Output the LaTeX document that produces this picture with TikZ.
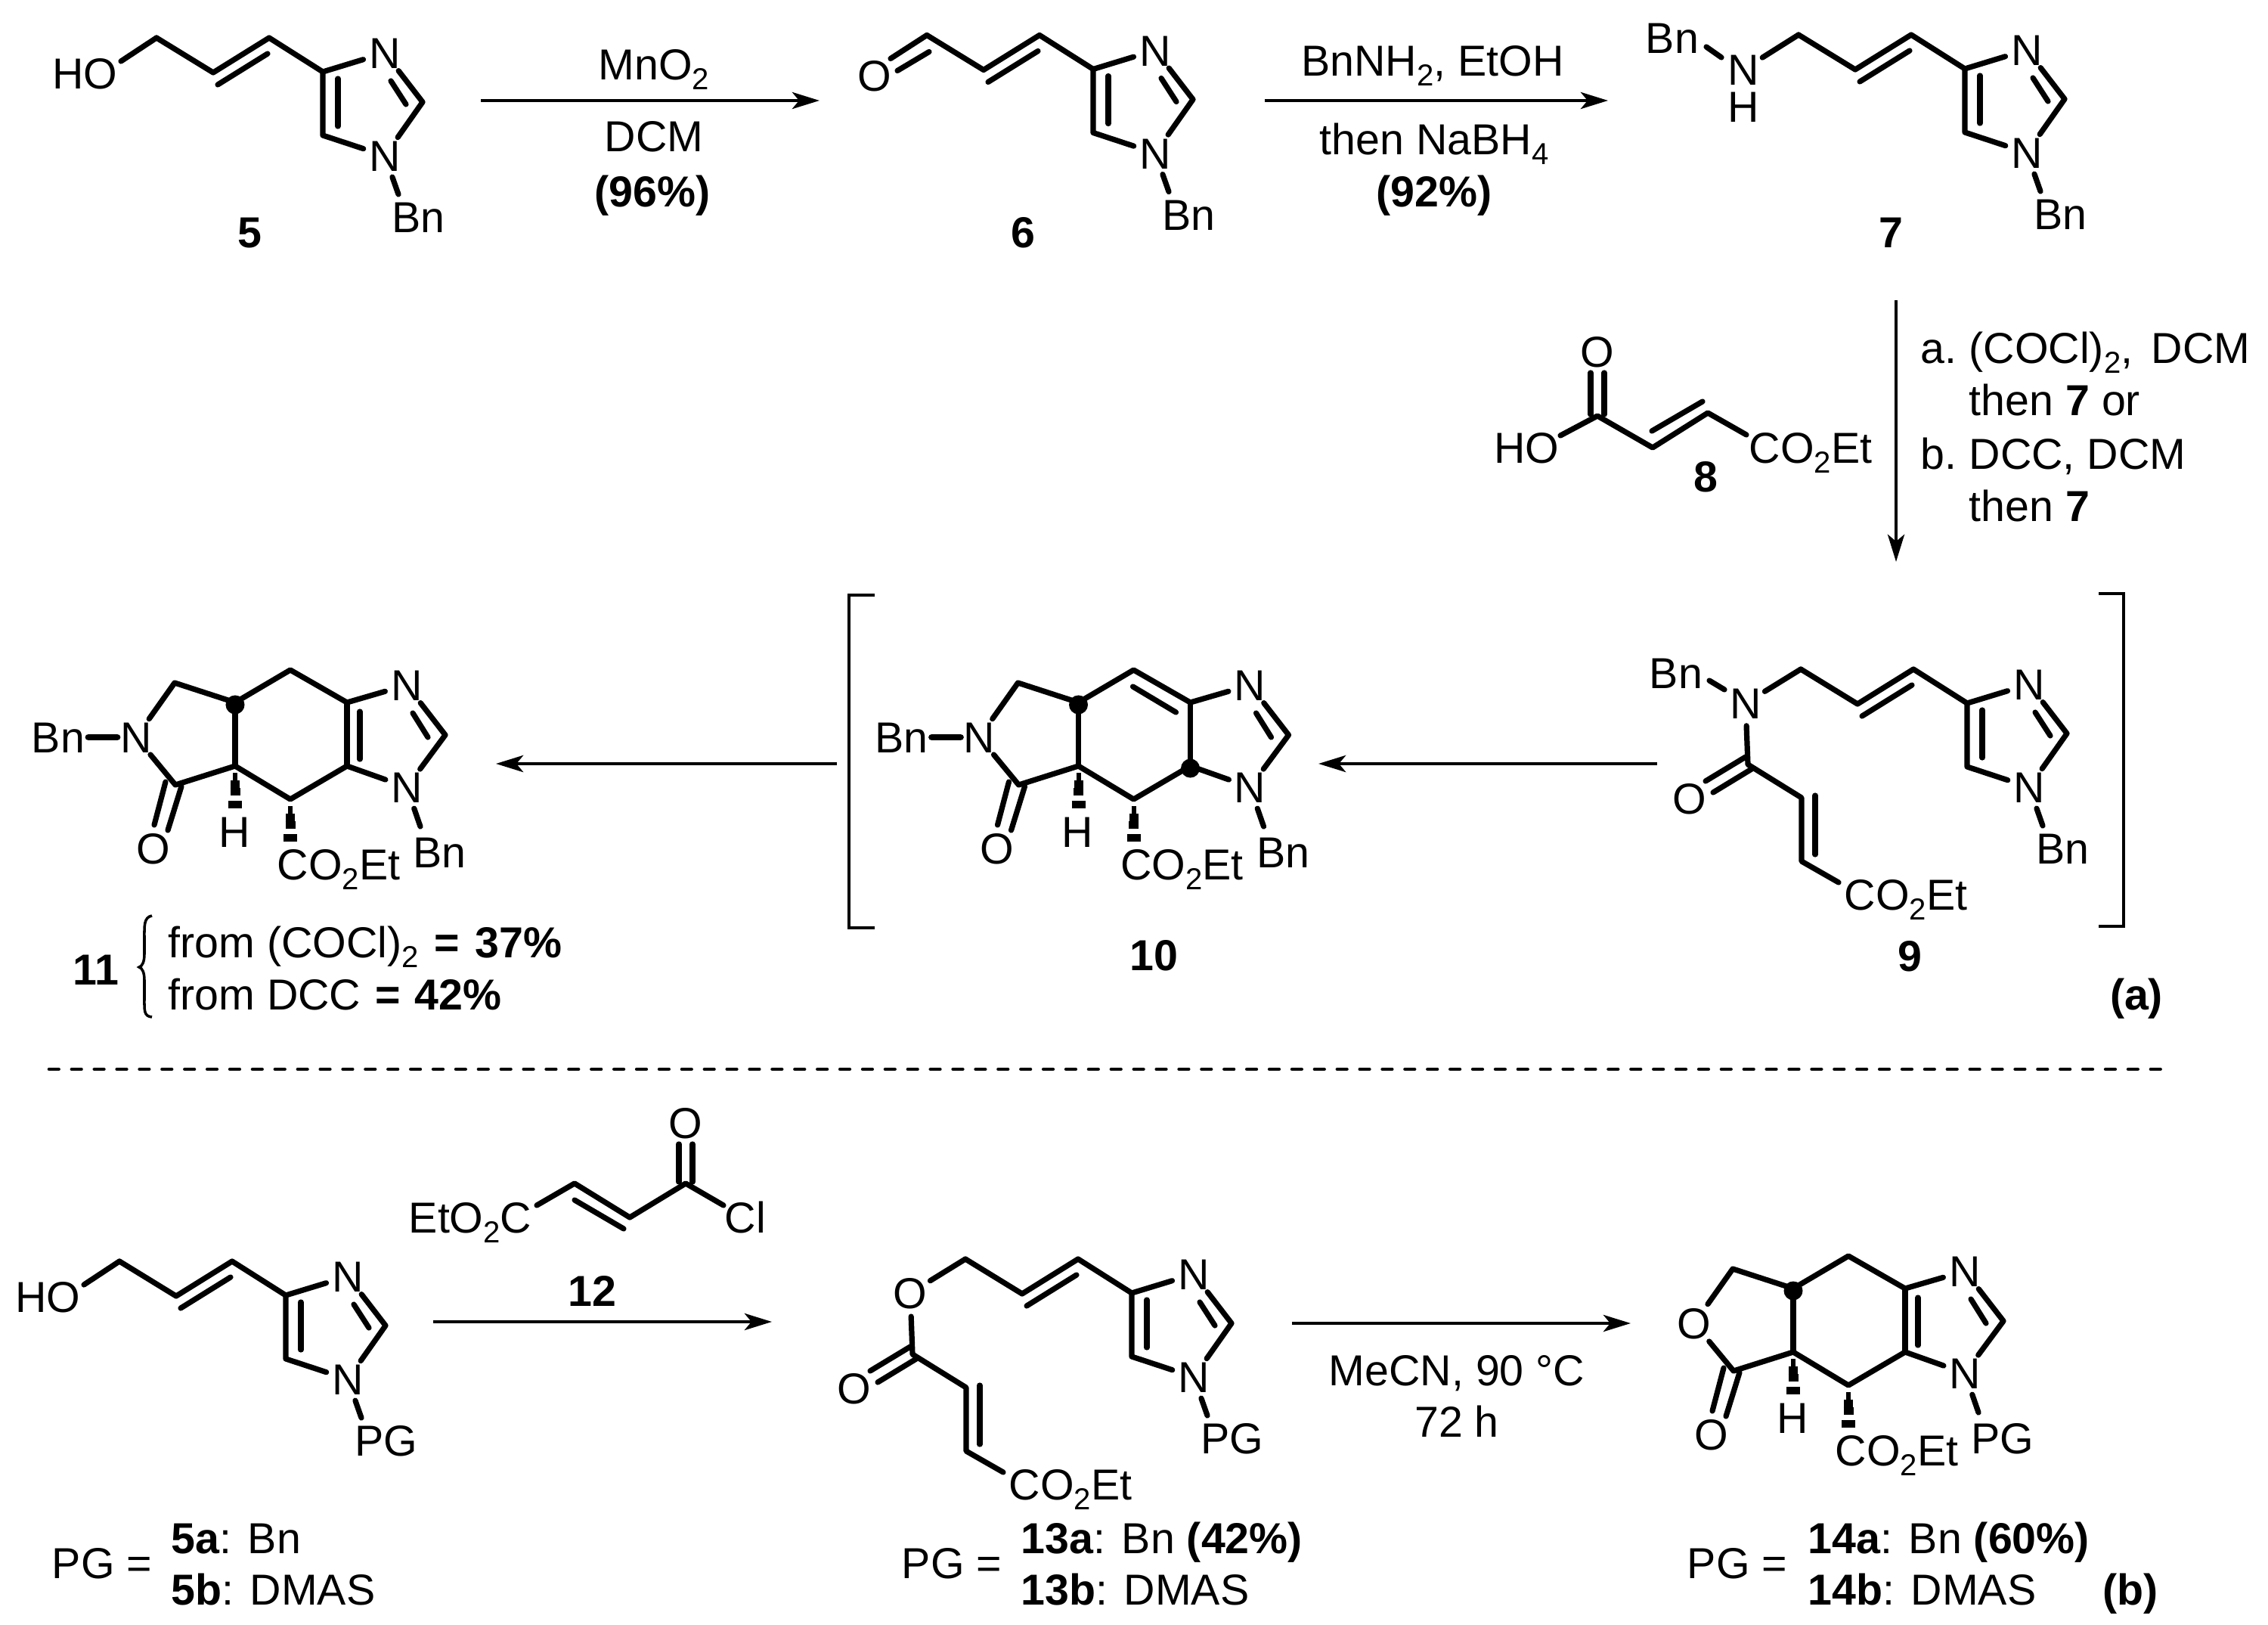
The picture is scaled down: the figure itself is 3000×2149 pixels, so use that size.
\documentclass[tikz,border=0pt]{standalone}
\usepackage{fontspec}
\setmainfont{Liberation Sans}
\usepackage{tikz}
\usetikzlibrary{arrows.meta,calc}

\newcommand{\chemfont}{\fontsize{16.3}{19}\selectfont}
\newcommand{\chemsub}[1]{\raisebox{-.22em}{\fontsize{11.4}{12}\selectfont #1}}

\tikzset{
  bond/.style={line width=2.05pt, line cap=round, line join=round},
  heavybond/.style={line width=2.5pt, line cap=round},
  hashline/.style={line width=2.6pt},
  rxn/.style={line width=1.4pt, -{Stealth[length=3.6mm, width=2.2mm, inset=0.9mm]}},
  thinline/.style={line width=1.3pt, line join=miter},
  lbl/.style={inner sep=0pt, text height=11.7pt, text depth=0pt},
  atom/.style={lbl, circle},
  stereodot/.style={circle, fill=black, inner sep=0pt, minimum size=2.5mm}
}

% imidazole ring, frame of compound 5
\newcommand{\imidring}[2]{%
  \coordinate (#1c4) at (427,95);
  \coordinate (#1c5) at (427,179);
  \coordinate (#1c2) at (559,135);
  \coordinate (#1re) at (527,257);
  \coordinate (#1ia) at (447,104);
  \coordinate (#1ib) at (447,167);
  \coordinate (#1ic) at (517,107);
  \coordinate (#1id) at (537,138);
  \node[atom] (#1n3) at (509,70) {N};
  \node[atom] (#1n1) at (509,206) {N};
  \node[lbl, anchor=west] (#1r) at (518,287) {#2};
  \draw[bond] (#1n3) -- (#1c4) -- (#1c5) -- (#1n1);
  \draw[bond] (#1n3) -- (#1c2) -- (#1n1);
  \draw[bond] (#1ia) -- (#1ib);
  \draw[bond] (#1ic) -- (#1id);
  \draw[bond] (#1n1) -- (#1re);
}

% trans alkene from the ring to the CH2
\newcommand{\allyl}[1]{%
  \coordinate (#1ca) at (207,50);
  \coordinate (#1cb) at (282,96);
  \coordinate (#1cc) at (356,50);
  \coordinate (#1ie) at (288,112);
  \coordinate (#1if) at (354,71);
  \draw[bond] (#1ca) -- (#1cb) -- (#1cc) -- (#1c4);
  \draw[bond] (#1ie) -- (#1if);
}

% fumaroyl arm on N or O
\newcommand{\fumaroyl}[2]{%
  \node[atom] (#1x) at (134,95) {#2};
  \node[atom] (#1o) at (60,221) {O};
  \node[lbl] (#1es) at (346,348) {CO\chemsub{2}Et};
  \coordinate (#1co) at (137,176);
  \coordinate (#1da) at (208,220);
  \coordinate (#1db) at (208,304);
  \coordinate (#1de) at (257,332);
  \coordinate (#1ig) at (226,217);
  \coordinate (#1ih) at (226,295);
  \coordinate (#1oa) at (81,198);
  \coordinate (#1ob) at (134,166);
  \coordinate (#1oc) at (91,213);
  \coordinate (#1od) at (142,182);
  \draw[bond] (#1ca) -- (#1x) -- (#1co) -- (#1da) -- (#1db) -- (#1de);
  \draw[bond] (#1ig) -- (#1ih);
  \draw[bond] (#1oa) -- (#1ob);
  \draw[bond] (#1oc) -- (#1od);
}

% fused tricycle, frame of compound 11
\newcommand{\fusedcore}[3]{%
  \node[atom] (#1x) at (180,975) {#2};
  \node[atom] (#1n3) at (538,906) {N};
  \node[atom] (#1n1) at (538,1041) {N};
  \node[atom] (#1o) at (203,1122) {O};
  \node[lbl] (#1h) at (310,1100) {H};
  \node[lbl] (#1es) at (448,1143) {CO\chemsub{2}Et};
  \node[lbl, anchor=west] (#1r) at (546,1127) {#3};
  \coordinate (#1ch) at (231,903);
  \coordinate (#1ja) at (311,929);
  \coordinate (#1tp) at (384,886);
  \coordinate (#1cr) at (459,929);
  \coordinate (#1cs) at (459,1013);
  \coordinate (#1bt) at (384,1057);
  \coordinate (#1jb) at (311,1013);
  \coordinate (#1co) at (232,1038);
  \coordinate (#1c2) at (589,972);
  \coordinate (#1re) at (556,1093);
  \coordinate (#1ic) at (546,943);
  \coordinate (#1id) at (566,975);
  \coordinate (#1oa) at (204,1091);
  \coordinate (#1ob) at (219,1034);
  \coordinate (#1oc) at (222,1098);
  \coordinate (#1od) at (240,1040);
  \draw[bond] (#1x) -- (#1ch) -- (#1ja) -- (#1tp) -- (#1cr) -- (#1n3) -- (#1c2) -- (#1n1) -- (#1cs) -- (#1bt) -- (#1jb) -- (#1co) -- (#1x);
  \draw[bond] (#1ja) -- (#1jb);
  \draw[bond] (#1cr) -- (#1cs);
  \draw[bond] (#1ic) -- (#1id);
  \draw[bond] (#1oa) -- (#1ob);
  \draw[bond] (#1oc) -- (#1od);
  \draw[bond] (#1n1) -- (#1re);
  \node[stereodot] (#1dot) at (311,932) {};
  \foreach \dy/\w in {14/3,24/6,34/6.5,51/9}{%
    \draw[hashline] ($(#1jb)+(-\w,\dy)$) -- ($(#1jb)+(\w,\dy)$);
    \draw[hashline] ($(#1bt)+(-\w,\dy)$) -- ($(#1bt)+(\w,\dy)$);
  }
}

\begin{document}
\begin{tikzpicture}[x=0.01cm, y=-0.01cm, every node/.append style={font=\chemfont}]
  \useasboundingbox (0,0) rectangle (3000,2149);

  % 5 and its protected form
  \foreach \p/\dx/\dy/\rg in {a/0/0/Bn,l/-49/1618/PG}{%
    \begin{scope}[shift={(\dx,\dy)}]
      \imidring{\p}{\rg}
      \allyl{\p}
      \node[lbl] (\p hy) at (112,97) {HO};
      \coordinate (\p he) at (160,81);
      \draw[bond] (\p he) -- (\p ca);
    \end{scope}
  }
  \node[lbl] (n5) at (330,307) {\textbf{5}};

  % 6
  \begin{scope}[shift={(1019,-3.5)}]
    \imidring{b}{Bn}
    \allyl{b}
    \node[atom] (bo) at (138,103.5) {O};
    \coordinate (boa) at (207,50);
    \coordinate (bob) at (159,81);
    \coordinate (boc) at (210,72);
    \coordinate (bod) at (168,97);
    \draw[bond] (boa) -- (bob);
    \draw[bond] (boc) -- (bod);
  \end{scope}
  \node[lbl] (n6) at (1353,307) {\textbf{6}};

  % 7
  \begin{scope}[shift={(2172,-4)}]
    \imidring{c}{Bn}
    \allyl{c}
    \node[lbl] (cbn) at (40,54) {Bn};
    \node[atom] (cn) at (134,96) {N};
    \node[lbl] (chh) at (134,145) {H};
    \coordinate (cbe) at (85,66);
    \coordinate (cbf) at (105,80);
    \draw[bond] (cbe) -- (cbf);
    \draw[bond] (cn) -- (cca);
  \end{scope}
  \node[lbl] (n7) at (2501,307) {\textbf{7}};

  % 8
  \node[atom] (fo) at (2113,465) {O};
  \node[lbl] (fh) at (2019,592) {HO};
  \node[lbl, anchor=west] (fe) at (2313,592) {CO\chemsub{2}Et};
  \node[lbl] (n8) at (2256,630) {\textbf{8}};
  \coordinate (fa) at (2104,493);
  \coordinate (fb) at (2104,548);
  \coordinate (fc) at (2122,493);
  \coordinate (fd) at (2122,548);
  \coordinate (fco) at (2113,550);
  \coordinate (fhe) at (2064,576);
  \coordinate (fg) at (2186,592);
  \coordinate (fi) at (2259,546);
  \coordinate (fee) at (2310,575);
  \coordinate (fj) at (2185,570);
  \coordinate (fk) at (2252,531);
  \draw[bond] (fa) -- (fb);
  \draw[bond] (fc) -- (fd);
  \draw[bond] (fhe) -- (fco) -- (fg) -- (fi) -- (fee);
  \draw[bond] (fj) -- (fk);

  % 9
  \begin{scope}[shift={(2175,835)}]
    \imidring{d}{Bn}
    \allyl{d}
    \fumaroyl{d}{N}
    \node[lbl] (dbn) at (42,55) {Bn};
    \coordinate (dbe) at (86,65);
    \coordinate (dbf) at (106,77);
    \draw[bond] (dbe) -- (dbf);
  \end{scope}
  \node[lbl] (n9) at (2526,1264) {\textbf{9}};
  \draw[thinline] (2776,785) -- (2809,785) -- (2809,1225) -- (2776,1225);
  \node[lbl] (parta) at (2826,1315) {\textbf{(a)}};

  % 10
  \begin{scope}[shift={(1115.5,0)}]
    \fusedcore{e}{N}{Bn}
    \node[lbl] (ebn) at (77,975) {Bn};
    \coordinate (ebs) at (117,975);
    \coordinate (ebe) at (155,975);
    \coordinate (eia) at (383,908);
    \coordinate (eib) at (440,942);
    \draw[heavybond] (ebs) -- (ebe);
    \draw[bond] (eia) -- (eib);
    \node[stereodot] (edot2) at (459,1016) {};
  \end{scope}
  \node[lbl] (n10) at (1526,1263) {\textbf{10}};
  \draw[thinline] (1157,787) -- (1123,787) -- (1123,1227) -- (1157,1227);

  % 11
  \fusedcore{g}{N}{Bn}
  \node[lbl] (gbn) at (77,975) {Bn};
  \coordinate (gbs) at (117,975);
  \coordinate (gbe) at (155,975);
  \coordinate (gia) at (476,941);
  \coordinate (gib) at (476,1004);
  \draw[heavybond] (gbs) -- (gbe);
  \draw[bond] (gia) -- (gib);
  \node[lbl] (n11) at (127,1282) {\textbf{11}};
  \draw[line width=1pt] (201,1211) .. controls (190,1213) and (191,1225) .. (191,1240) -- (191,1262)
    .. controls (191,1272) and (188,1278) .. (184,1279) .. controls (188,1280) and (191,1286) .. (191,1296)
    -- (191,1320) .. controls (191,1336) and (190,1344) .. (201,1345);
  \node[lbl, anchor=west] (from1) at (222,1246) {from (COCl)\chemsub{2}\hspace{.08em} \textbf{=}\hspace{.08em} \textbf{37\%}};
  \node[lbl, anchor=west] (from2) at (222,1315) {from DCC\hspace{.05em} \textbf{=}\hspace{.05em} \textbf{42\%}};

  % 12
  \node[lbl] (hes) at (622,1610) {EtO\chemsub{2}C};
  \node[atom] (ho) at (907,1485) {O};
  \node[lbl] (hcl) at (986,1610) {Cl};
  \node[lbl] (n12) at (783,1707) {\textbf{12}};
  \coordinate (hee) at (710,1594);
  \coordinate (ha) at (760,1565);
  \coordinate (hb) at (833,1610);
  \coordinate (hc) at (907,1565);
  \coordinate (hle) at (957,1594);
  \coordinate (hd) at (760,1587);
  \coordinate (hf) at (825,1625);
  \coordinate (hg) at (898,1513);
  \coordinate (hi) at (898,1563);
  \coordinate (hj) at (916,1513);
  \coordinate (hk) at (916,1563);
  \draw[bond] (hee) -- (ha) -- (hb) -- (hc) -- (hle);
  \draw[bond] (hd) -- (hf);
  \draw[bond] (hg) -- (hi);
  \draw[bond] (hj) -- (hk);

  % 13
  \begin{scope}[shift={(1070,1615)}]
    \imidring{k}{PG}
    \allyl{k}
    \fumaroyl{k}{O}
  \end{scope}

  % 14
  \begin{scope}[shift={(2061,775)}]
    \fusedcore{m}{O}{PG}
    \coordinate (mia) at (476,941);
    \coordinate (mib) at (476,1004);
    \draw[bond] (mia) -- (mib);
  \end{scope}

  % PG tables
  \foreach \nm/\xa/\xb/\lab/\yld in {p/135/226/5/,q/1259/1350/13/ \textbf{(42\%)},r/2298/2391/14/ \textbf{(60\%)}}{%
    \node[lbl] (\nm eq) at (\xa,2067) {PG =};
    \node[lbl, anchor=west] (\nm a) at (\xb,2034) {\textbf{\lab a}: Bn\yld};
    \node[lbl, anchor=west] (\nm b) at (\xb,2102) {\textbf{\lab b}: DMAS};
  }
  \node[lbl] (partb) at (2818,2102) {\textbf{(b)}};

  % arrows
  \foreach \nm/\xs/\ys/\xe/\ye in {ra/636/133/1084/133, rb/1673/133/2127/133, rc/2508/397/2508/743,
      rd/2192/1010/1744/1010, re/1107/1010/656/1010, rf/573/1748/1021/1748, rg/1709/1750/2157/1750}{%
    \coordinate (\nm s) at (\xs,\ys);
    \coordinate (\nm e) at (\xe,\ye);
    \draw[rxn] (\nm s) -- (\nm e);
  }

  % reagents
  \node[lbl] (mno) at (865,85) {MnO\chemsub{2}};
  \node[lbl] (dcma) at (865,180) {DCM};
  \node[lbl] (ya) at (863,253) {\textbf{(96\%)}};
  \node[lbl] (bnnh) at (1895,80) {BnNH\chemsub{2}, EtOH};
  \node[lbl] (nabh) at (1897,184) {then NaBH\chemsub{4}};
  \node[lbl] (yb) at (1897,253) {\textbf{(92\%)}};
  \node[lbl, anchor=west] (sa) at (2540,460) {a.};
  \node[lbl, anchor=west] (sb) at (2604,460) {(COCl)\chemsub{2},\hspace{.15em} DCM};
  \node[lbl, anchor=west] (sc) at (2604,529) {then \textbf{7} or};
  \node[lbl, anchor=west] (sd) at (2540,600) {b.};
  \node[lbl, anchor=west] (se) at (2604,600) {DCC, DCM};
  \node[lbl, anchor=west] (sf) at (2604,669) {then \textbf{7}};
  \node[lbl] (mec) at (1927,1812) {MeCN, 90 °C};
  \node[lbl] (hrs) at (1927,1880) {72 h};

  % separator
  \coordinate (sepa) at (65,1414);
  \coordinate (sepb) at (2861,1414);
  \draw[line width=1.3pt, line cap=round, dash pattern=on 3.6pt off 4.9pt] (sepa) -- (sepb);
\end{tikzpicture}
\end{document}
